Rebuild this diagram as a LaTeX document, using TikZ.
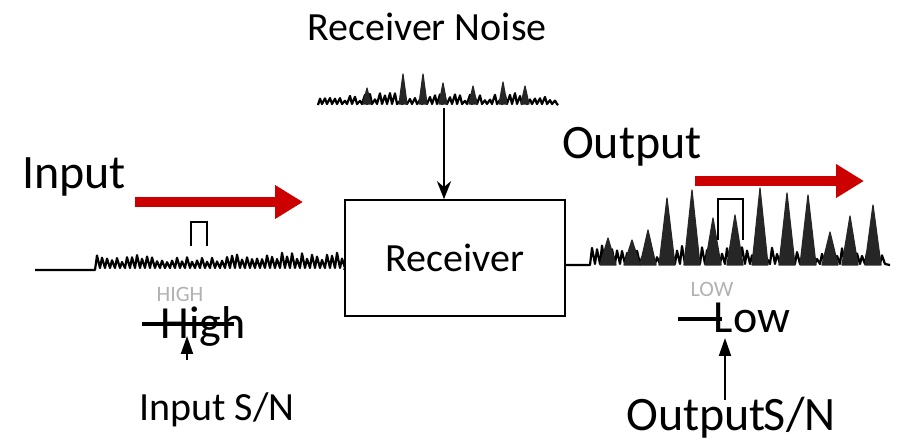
\documentclass[tikz,border=0pt]{standalone}
\usepackage{fontspec}
\setmainfont{Carlito}
\usetikzlibrary{arrows.meta}

\begin{document}
\begin{tikzpicture}[x=0.5pt,y=-0.5pt,
	noise/.style={line width=1.1pt,line join=round},
	spike/.style={fill=black!85,draw=black!85,line width=0.6pt,line join=round},
	redarrow/.style={draw={rgb,255:red,204;green,0;blue,0},line width=5pt,
		-{Triangle[length=14pt,width=16pt]}},
	faint/.style={text=black!30,inner sep=0pt,font=\fontsize{11}{11}\selectfont}]
	\useasboundingbox (0,0) rectangle (912,444);
	\pgfmathsetseed{11}

	% receiver
	\node[draw,line width=0.8pt,minimum width=110pt,minimum height=58pt,
		font=\fontsize{20}{20}\selectfont] at (455,258) (rx) {Receiver};

	% input trace
	\draw[noise] (35,270) -- (95,270)
		foreach \i in {0,...,49} { -- ({97+5*\i},{267-3-\i/49*4-9*rnd}) -- ({100+5*\i},268) }
		-- (rx.west |- 0,270);
	\draw[line width=1.3pt] (191,246) -- (191,222) -- (207,222) -- (207,246);

	% noise at the top
	\draw[noise] (318,105)
		foreach \i in {0,...,47} { -- ({320+5*\i},{103-2-8*rnd}) -- ({322+5*\i},104) } -- (558,105);
	\foreach \x/\t in {367/88,403/74,423/74,443/83,473/86,503/82,525/86}
		\fill[spike] (\x-4,104) -- (\x,\t) -- (\x+4,104) -- cycle;

	% output trace
	\draw[noise] (rx.east |- 0,265) -- (590,265)
		foreach \i in {0,...,58} { -- ({592+5*\i},{263-4-14*rnd}) -- ({595+5*\i},264) }
		-- (890,265);
	\foreach \x/\t in {608/238,632/240,648/230,667/198,692/190,713/218,735/215,760/188,787/193,808/195,830/232,850/216,873/205}
		\fill[spike] (\x-8,265) -- (\x,\t) -- (\x+8,265) -- cycle;
	\draw[line width=1.4pt] (718,240) -- (718,199) -- (743,199) -- (743,240);

	% labels
	\node[font=\fontsize{24}{24}\selectfont] at (74,177) (inp) {Input};
	\node[font=\fontsize{24}{24}\selectfont] at (632,147) (outp) {Output};
	\node[font=\fontsize{20}{20}\selectfont] at (427,27) (rxn) {Receiver Noise};

	% red arrows
	\coordinate (ia) at (135,202);
	\coordinate (ib) at (303,202);
	\coordinate (oa) at (695,181);
	\coordinate (ob) at (864,181);
	\draw[redarrow] (ia) -- (ib);
	\draw[redarrow] (oa) -- (ob);

	% noise into the receiver
	\coordinate (nz) at (444,108);
	\draw[line width=1.3pt,-{Stealth[length=9pt,width=7pt]}] (nz) -- (nz |- rx.north);

	% S/N marks
	\node[faint] at (180,294) (hi0) {HIGH};
	\node[faint] at (712,289) (lo0) {LOW};
	\coordinate (hl) at (142,324);
	\coordinate (hr) at (234,324);
	\draw[line width=1.6pt] (hl) -- (hr);
	\coordinate (hs) at (187,360);
	\coordinate (ht) at (187,336);
	\draw[line width=1pt,-{Triangle[length=9pt,width=6pt]}] (hs) -- (ht);
	\coordinate (ll) at (678,319);
	\coordinate (lr) at (722,319);
	\draw[line width=1.6pt] (ll) -- (lr);
	\coordinate (ls) at (725,400);
	\coordinate (lt) at (725,338);
	\draw[line width=1pt,-{Triangle[length=9pt,width=6pt]}] (ls) -- (lt);

	\node[inner sep=0pt,font=\fontsize{23}{23}\selectfont] at (203,326) (hi) {High};
	\node[inner sep=0pt,font=\fontsize{23}{23}\selectfont] at (752,318) (lo) {Low};
	\node[font=\fontsize{20}{20}\selectfont] at (217,410) (isn) {Input S/N};
	\node[font=\fontsize{24}{24}\selectfont] at (731,418) (osn) {Output\kern-1pt S/N};
\end{tikzpicture}
\end{document}
